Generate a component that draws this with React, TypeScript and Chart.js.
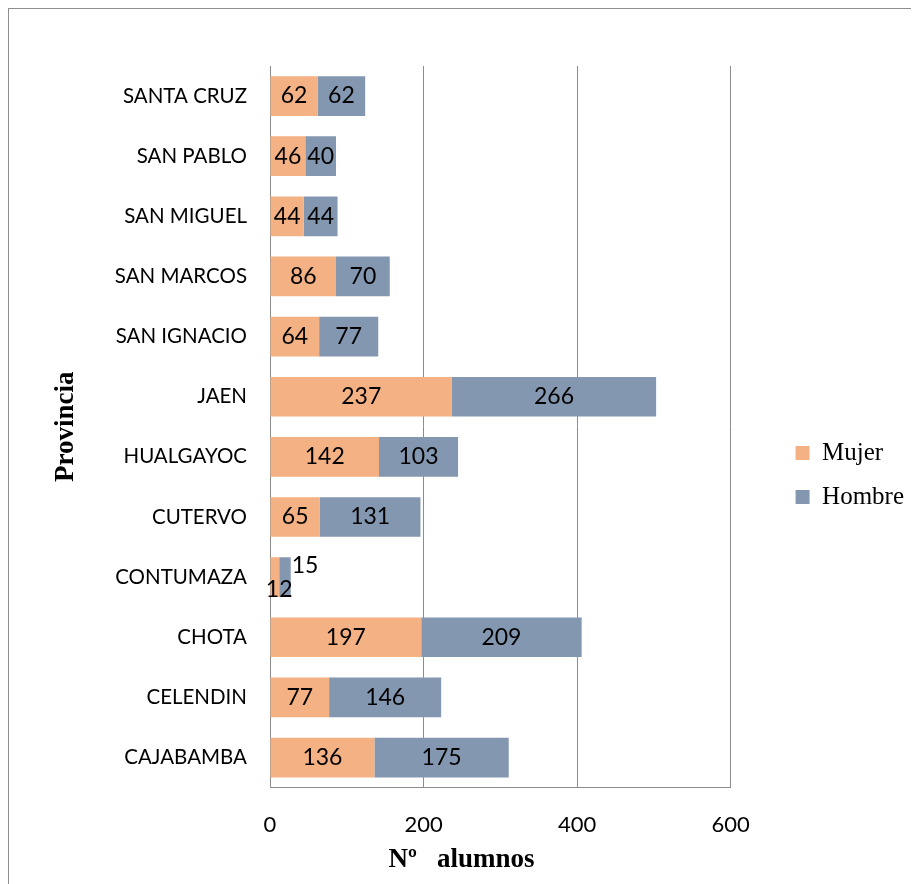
import React, { useEffect, useRef } from "react";
import { Chart, registerables } from "chart.js";

Chart.register(...registerables);

const provincias = [
  "SANTA CRUZ",
  "SAN PABLO",
  "SAN MIGUEL",
  "SAN MARCOS",
  "SAN IGNACIO",
  "JAEN",
  "HUALGAYOC",
  "CUTERVO",
  "CONTUMAZA",
  "CHOTA",
  "CELENDIN",
  "CAJABAMBA",
];
const mujer = [62, 46, 44, 86, 64, 237, 142, 65, 12, 197, 77, 136];
const hombre = [62, 40, 44, 70, 77, 266, 103, 131, 15, 209, 146, 175];
const xTicks = [0, 200, 400, 600];

const MUJER_COLOR = "#F4B183";
const HOMBRE_COLOR = "#8497B0";
const GRID_COLOR = "#8c8c8c";
const SANS = "Lato";
const SERIF = "'Liberation Serif'";

const barLabels = {
  id: "barLabels",
  afterDatasetsDraw(chart: any) {
    const ctx = chart.ctx;
    ctx.save();
    ctx.font = `23px ${SANS}`;
    ctx.fillStyle = "#000";
    chart.data.datasets.forEach((ds: any, di: number) => {
      const meta = chart.getDatasetMeta(di);
      meta.data.forEach((bar: any, i: number) => {
        const text = String(ds.data[i]);
        const w = Math.abs(bar.x - bar.base);
        const tw = ctx.measureText(text).width;
        ctx.textBaseline = "middle";
        if (tw + 4 <= w) {
          ctx.textAlign = "center";
          ctx.fillText(text, (bar.x + bar.base) / 2, bar.y);
        } else if (di === 0) {
          ctx.textAlign = "center";
          ctx.fillText(text, bar.x, bar.y + 12);
        } else {
          ctx.textAlign = "left";
          ctx.fillText(text, bar.x + 1, bar.y - 12);
        }
      });
    });
    ctx.restore();
  },
};

export default function App() {
  const ref = useRef<HTMLCanvasElement | null>(null);
  useEffect(() => {
    if (!ref.current) return;
    const chart = new Chart(ref.current, {
      type: "bar",
      data: {
        labels: provincias,
        datasets: [
          {
            label: "Mujer",
            data: mujer,
            backgroundColor: MUJER_COLOR,
            barPercentage: 0.66,
            categoryPercentage: 1,
          },
          {
            label: "Hombre",
            data: hombre,
            backgroundColor: HOMBRE_COLOR,
            barPercentage: 0.66,
            categoryPercentage: 1,
          },
        ],
      },
      options: {
        indexAxis: "y",
        animation: false,
        responsive: true,
        maintainAspectRatio: false,
        layout: { padding: { top: 57, right: 4, bottom: 0, left: 0 } },
        scales: {
          x: {
            stacked: true,
            min: 0,
            max: 600,
            afterBuildTicks: (s: any) => {
              s.ticks = xTicks.map((v) => ({ value: v }));
            },
            grid: { color: GRID_COLOR, drawTicks: false, lineWidth: 1 },
            border: { display: true, color: GRID_COLOR },
            ticks: {
              padding: 24,
              color: "#000",
              font: { family: SANS, size: 22 },
            },
            afterFit: (s: any) => {
              s.height = 50;
            },
          },
          y: {
            stacked: true,
            grid: { display: false, drawTicks: false },
            border: { display: true, color: GRID_COLOR },
            ticks: {
              padding: 23,
              color: "#000",
              font: { family: SANS, size: 20.5 },
            },
            title: {
              display: true,
              text: "Provincia",
              color: "#000",
              font: { family: SERIF, size: 27, weight: "bold" },
              padding: { top: 41, bottom: 0 },
            },
            afterFit: (s: any) => {
              s.width = 261;
            },
          },
          y2: {
            type: "category",
            position: "right",
            grid: { display: false, drawTicks: false },
            border: { display: false },
            ticks: { display: false },
            afterFit: (s: any) => {
              s.width = 46;
            },
          },
        },
        plugins: {
          tooltip: { enabled: false },
          legend: {
            position: "right",
            labels: {
              boxWidth: 14,
              boxHeight: 14,
              padding: 19,
              color: "#000",
              font: { family: SERIF, size: 25 },
            },
          },
          title: {
            display: true,
            position: "bottom",
            text: "Nº   alumnos",
            color: "#000",
            font: { family: SERIF, size: 27, weight: "bold" },
            padding: { top: 6, bottom: 8 },
          },
        },
      },
      plugins: [barLabels],
    } as any);
    return () => chart.destroy();
  }, []);

  return (
    <div
      style={{
        position: "relative",
        width: 911,
        height: 876,
        boxSizing: "border-box",
        borderTop: "1px solid #8f8f8f",
        borderLeft: "1px solid #8f8f8f",
        borderRight: "1px solid #8f8f8f",
        background: "#fff",
      }}
    >
      <canvas ref={ref} />
    </div>
  );
}
